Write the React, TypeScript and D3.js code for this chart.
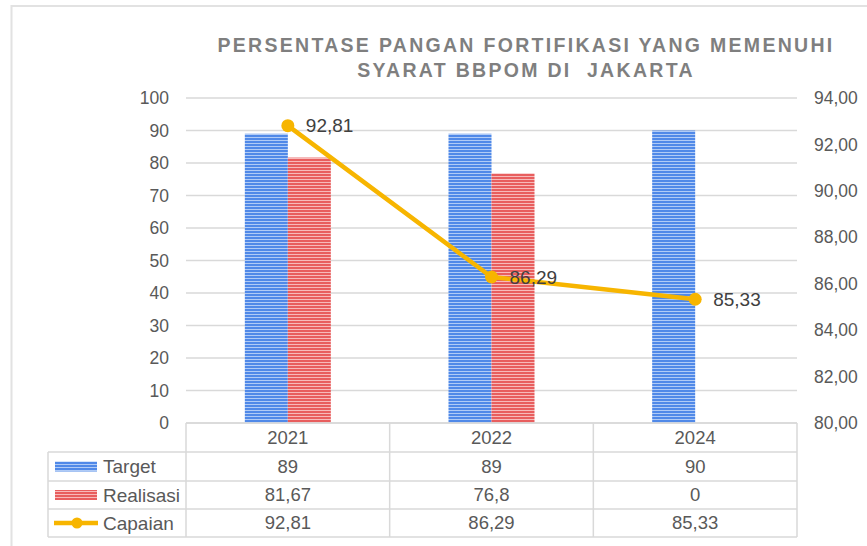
import React from "react";
import * as d3 from "d3";

const categories = ["2021", "2022", "2024"];
const target = [89, 89, 90];
const realisasi = [81.67, 76.8, 0];
const capaian = [92.81, 86.29, 85.33];
const leftTicks = [0, 10, 20, 30, 40, 50, 60, 70, 80, 90, 100];
const rightTicks = [80, 82, 84, 86, 88, 90, 92, 94];
const targetLabels = ["89", "89", "90"];
const realisasiLabels = ["81,67", "76,8", "0"];
const capaianLabels = ["92,81", "86,29", "85,33"];
const titleLines = ["PERSENTASE PANGAN FORTIFIKASI YANG MEMENUHI", "SYARAT BBPOM DI  JAKARTA"];

const W = 867;
const H = 546;
const plotL = 186;
const plotR = 797;
const plotT = 98;
const plotB = 423;
const tableL = 48;
const rowLines = [452, 481, 509, 537];

const FONT = "'Liberation Sans', Arial, sans-serif";
const TEXT = "#595959";
const GRID = "#d9d9d9";
const GOLD = "#f7b500";

export default function App() {
  const x = d3.scaleBand<string>().domain(categories).range([plotL, plotR]).paddingInner(0).paddingOuter(0);
  const bw = x.bandwidth();
  const inner = d3
    .scaleBand<string>()
    .domain(["Target", "Realisasi"])
    .range([0, bw])
    .paddingInner(0)
    .paddingOuter((bw / 43 - 2) / 2);
  const yL = d3.scaleLinear().domain([0, 100]).range([plotB, plotT]);
  const yR = d3.scaleLinear().domain([80, 94]).range([plotB, plotT]);

  const pts = categories.map((c, i) => [x(c)! + bw / 2, yR(capaian[i])] as [number, number]);
  const line = d3.line<[number, number]>()(pts) || "";

  const rows = [
    { name: "Target", labels: targetLabels, kind: "blue" },
    { name: "Realisasi", labels: realisasiLabels, kind: "red" },
    { name: "Capaian", labels: capaianLabels, kind: "line" },
  ];

  return (
    <svg
      width={W}
      height={H}
      style={{ position: "absolute", left: 0, top: 0, background: "#fff" }}
      fontFamily={FONT}
    >
      <defs>
        <pattern id="pBlue" width="4" height="3" patternUnits="userSpaceOnUse">
          <rect width="4" height="3" fill="#5089e8" />
          <rect y="2" width="4" height="1" fill="#b0cbf6" />
        </pattern>
        <pattern id="pRed" width="4" height="3" patternUnits="userSpaceOnUse">
          <rect width="4" height="3" fill="#e85e5e" />
          <rect y="2" width="4" height="1" fill="#f7baba" />
        </pattern>
      </defs>
      <rect x={0} y={0} width={W} height={H} fill="#fff" />
      {/* outer border */}
      <rect x={11.5} y={6} width={W + 20} height={H + 20} fill="none" stroke="#e2e2e2" strokeWidth={2} />

      {/* title */}
      {titleLines.map((t, i) => (
        <text
          key={i}
          x={526}
          y={52 + i * 25}
          textAnchor="middle"
          fontSize={19.5}
          fontWeight="bold"
          letterSpacing={2.3}
          fill="#7f7f7f"
          style={{ whiteSpace: "pre" }}
        >
          {t}
        </text>
      ))}

      {/* gridlines */}
      {leftTicks.map((t) => (
        <line key={t} x1={plotL} x2={plotR} y1={yL(t)} y2={yL(t)} stroke={GRID} strokeWidth={1.5} />
      ))}

      {/* left axis labels */}
      {leftTicks.map((t) => (
        <text key={t} x={169} y={yL(t)} dy="0.35em" textAnchor="end" fontSize={17.5} fill={TEXT}>
          {t}
        </text>
      ))}
      {/* right axis labels */}
      {rightTicks.map((t) => (
        <text key={t} x={814} y={yR(t)} dy="0.35em" textAnchor="start" fontSize={17.5} fill={TEXT}>
          {t.toFixed(2).replace(".", ",")}
        </text>
      ))}

      {/* bars */}
      {categories.map((c, i) => (
        <g key={c} transform={`translate(${x(c)},0)`}>
          <rect
            x={inner("Target")}
            y={yL(target[i])}
            width={inner.bandwidth()}
            height={yL(0) - yL(target[i])}
            fill="url(#pBlue)"
          />
          {realisasi[i] > 0 && (
            <rect
              x={inner("Realisasi")}
              y={yL(realisasi[i])}
              width={inner.bandwidth()}
              height={yL(0) - yL(realisasi[i])}
              fill="url(#pRed)"
            />
          )}
        </g>
      ))}

      {/* line */}
      <path d={line} fill="none" stroke={GOLD} strokeWidth={4.5} strokeLinejoin="round" />
      {pts.map((p, i) => (
        <circle key={i} cx={p[0]} cy={p[1]} r={6.5} fill={GOLD} />
      ))}
      {pts.map((p, i) => (
        <text key={i} x={p[0] + 18} y={p[1]} dy="0.35em" fontSize={19} fill="#404040">
          {capaianLabels[i]}
        </text>
      ))}

      {/* data table */}
      <g stroke={GRID} strokeWidth={1.5} fill="none">
        <line x1={plotL} x2={plotR} y1={plotB} y2={plotB} />
        {rowLines.map((y) => (
          <line key={y} x1={tableL} x2={plotR} y1={y} y2={y} />
        ))}
        <line x1={tableL} x2={tableL} y1={rowLines[0]} y2={rowLines[3]} />
        {[...categories.map((c) => x(c)!), plotR].map((xx, i) => (
          <line key={i} x1={xx} x2={xx} y1={plotB} y2={rowLines[3]} />
        ))}
      </g>
      {categories.map((c) => (
        <text key={c} x={x(c)! + bw / 2} y={(plotB + rowLines[0]) / 2} dy="0.35em" textAnchor="middle" fontSize={18.5} fill={TEXT}>
          {c}
        </text>
      ))}
      {rows.map((r, ri) => {
        const yc = (rowLines[ri] + rowLines[ri + 1]) / 2;
        return (
          <g key={r.name}>
            {r.kind === "blue" && <rect x={55} y={yc - 5} width={42} height={10} fill="url(#pBlue)" />}
            {r.kind === "red" && <rect x={55} y={yc - 5} width={42} height={10} fill="url(#pRed)" />}
            {r.kind === "line" && (
              <g>
                <line x1={54} x2={98} y1={yc} y2={yc} stroke={GOLD} strokeWidth={4.5} />
                <circle cx={77} cy={yc} r={5.5} fill={GOLD} />
              </g>
            )}
            <text x={103} y={yc} dy="0.35em" fontSize={19} fill={TEXT}>
              {r.name}
            </text>
            {categories.map((c, i) => (
              <text key={c} x={x(c)! + bw / 2} y={yc} dy="0.35em" textAnchor="middle" fontSize={18.5} fill={TEXT}>
                {r.labels[i]}
              </text>
            ))}
          </g>
        );
      })}
    </svg>
  );
}
